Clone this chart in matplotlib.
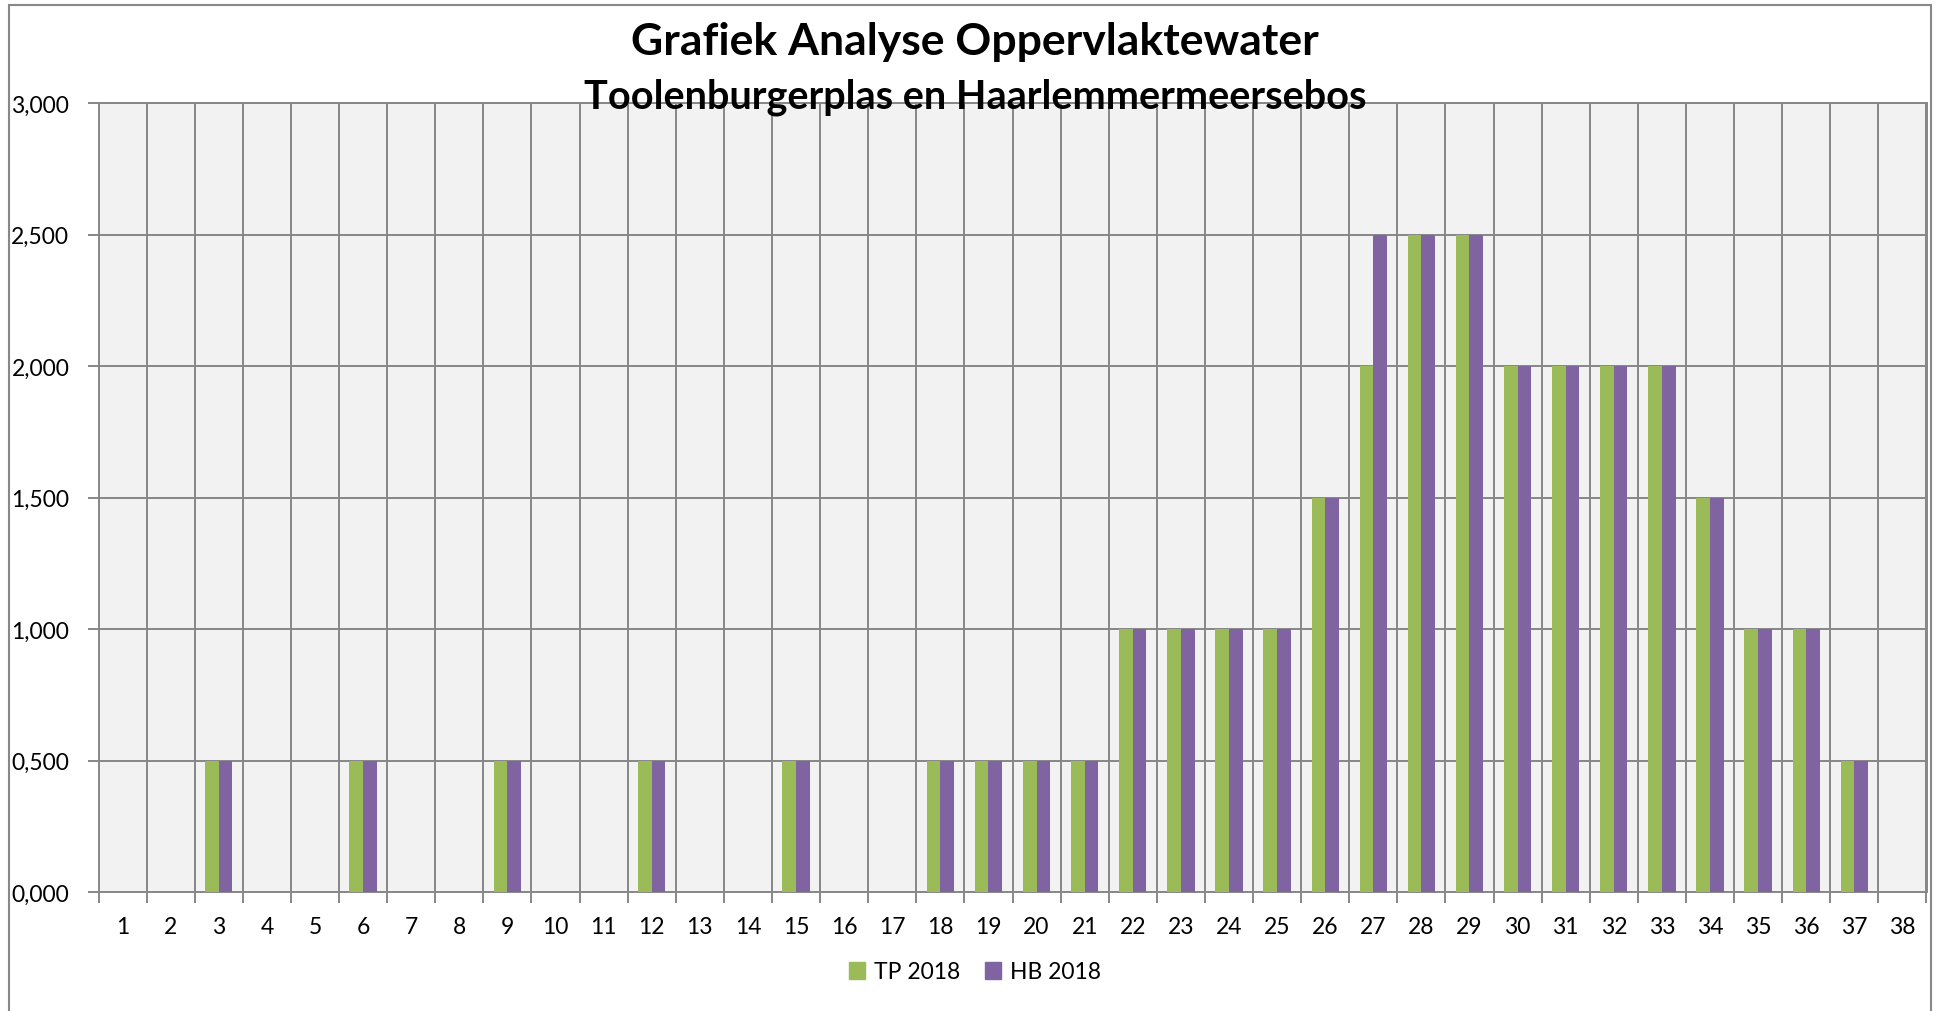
import matplotlib.pyplot as plt
from matplotlib.patches import Patch, Rectangle
import numpy as np

weeks = list(range(1, 39))
tp_2018 = [0, 0, 0.5, 0, 0, 0.5, 0, 0, 0.5, 0, 0, 0.5, 0, 0, 0.5, 0, 0, 0.5, 0.5, 0.5,
           0.5, 1.0, 1.0, 1.0, 1.0, 1.5, 2.0, 2.5, 2.5, 2.0, 2.0, 2.0, 2.0, 1.5, 1.0, 1.0,
           0.5, 0]
hb_2018 = [0, 0, 0.5, 0, 0, 0.5, 0, 0, 0.5, 0, 0, 0.5, 0, 0, 0.5, 0, 0, 0.5, 0.5, 0.5,
           0.5, 1.0, 1.0, 1.0, 1.0, 1.5, 2.5, 2.5, 2.5, 2.0, 2.0, 2.0, 2.0, 1.5, 1.0, 1.0,
           0.5, 0]
y_ticks = [0, 0.5, 1.0, 1.5, 2.0, 2.5, 3.0]
y_labels = ["0,000", "0,500", "1,000", "1,500", "2,000", "2,500", "3,000"]

green = "#9BBB59"
purple = "#8064A2"
grid = "#878787"

plt.rcParams['font.family'] = ['Lato', 'DejaVu Sans']

fig = plt.figure(figsize=(19.36, 10.12), dpi=100)
ax = fig.add_axes([98.5 / 1936, 1 - 893.3 / 1012, (1926.5 - 98.5) / 1936, (893.3 - 104) / 1012])
ax.set_facecolor("#F2F2F2")

x = np.arange(len(weeks))
w = 0.284
ax.bar(x - w / 2, tp_2018, w, color=green, zorder=3)
ax.bar(x + w / 2, hb_2018, w, color=purple, zorder=3)

ax.set_xlim(-0.5, len(weeks) - 0.5)
ax.set_ylim(0, 3.0)

# category boundaries carry the grid and tick marks, labels sit at the centres
ax.set_xticks(np.arange(len(weeks) + 1) - 0.5)
ax.set_xticklabels([])
ax.set_xticks(x, minor=True)
ax.set_xticklabels([str(wk) for wk in weeks], minor=True)
ax.tick_params(axis='x', which='major', length=8, width=1.4, color=grid, direction='out')
ax.tick_params(axis='x', which='minor', length=0, pad=17, labelsize=16.5)

ax.set_yticks(y_ticks)
ax.set_yticklabels(y_labels)
ax.tick_params(axis='y', length=8, width=1.4, color=grid, pad=13, labelsize=16.5)

ax.grid(True, which='major', color=grid, linewidth=1.4, zorder=0)
ax.set_axisbelow(True)
for s in ax.spines.values():
    s.set_color(grid)
    s.set_linewidth(1.4)

fig.text(0.5036, 1 - 42 / 1012, "Grafiek Analyse Oppervlaktewater",
         ha='center', va='center', fontsize=32, fontweight='bold')
fig.text(0.5036, 1 - 97 / 1012, "Toolenburgerplas en Haarlemmermeersebos",
         ha='center', va='center', fontsize=28.5, fontweight='bold')

handles = [Patch(color=green, label="TP 2018"), Patch(color=purple, label="HB 2018")]
fig.legend(handles=handles, loc='center', bbox_to_anchor=(0.5036, 1 - 973 / 1012),
           ncol=2, frameon=False, fontsize=16.5, handlelength=0.7, handleheight=0.7,
           handletextpad=0.4, columnspacing=1.1)

# outer chart border
fig.add_artist(Rectangle((9.3 / 1936, -0.1), (1931 - 9.3) / 1936, 1.1 - 5.7 / 1012,
                         transform=fig.transFigure, fill=False, edgecolor="#888888",
                         linewidth=1.5))

fig.savefig("out.png", dpi=100, facecolor="white")
